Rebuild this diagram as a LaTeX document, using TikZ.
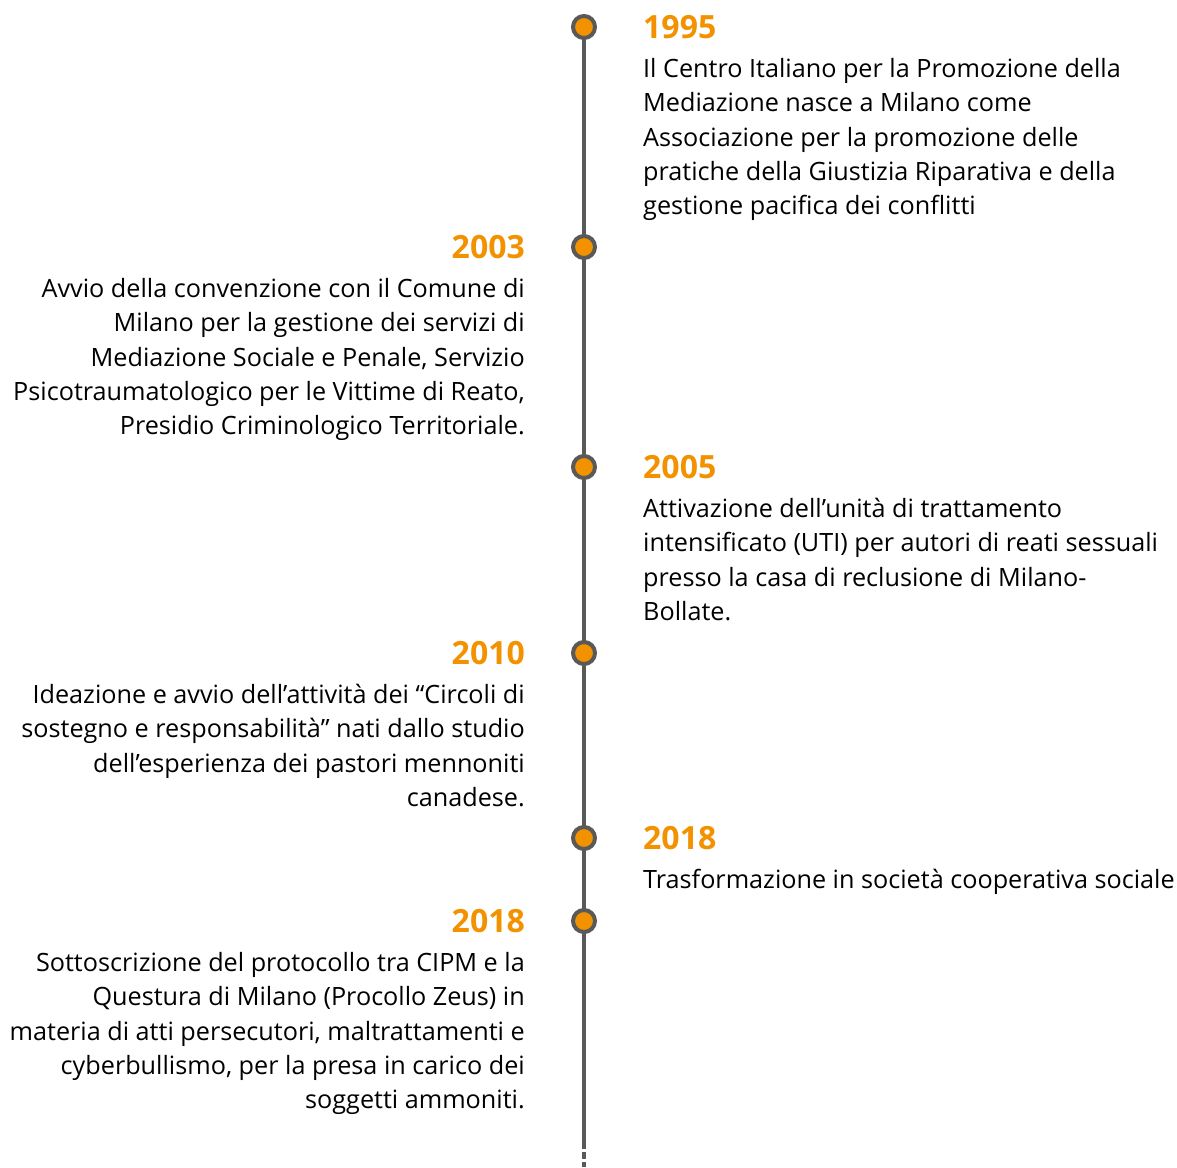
\documentclass[tikz,border=0pt]{standalone}
\usepackage{fontspec}
\setmainfont{Open Sans}
\usetikzlibrary{positioning}
\definecolor{tlorange}{HTML}{F39200}
\definecolor{tlgray}{HTML}{595959}

\begin{document}
\begin{tikzpicture}[
  x=1pt, y=1pt,
  dot/.style={circle, draw=tlgray, line width=4pt, fill=tlorange, minimum size=22pt, inner sep=0pt},
  spine/.style={draw=tlgray, line width=4pt},
  year/.style={text=tlorange, font=\fontsize{32}{32}\selectfont\bfseries, inner sep=0pt},
  descR/.style={align=left, inner sep=0pt, font=\fontsize{25.2}{34.4}\selectfont},
  descL/.style={align=right, inner sep=0pt, font=\fontsize{25.2}{34.4}\selectfont}
]
\useasboundingbox (0,0) rectangle (1177,-1167);

% === LINEA DEL TEMPO ===
\coordinate (top) at (584,-27);
\coordinate (tail) at (584,-1142);
\coordinate (bottom) at (584,-1167);
\draw[spine] (top) -- (tail);
\draw[spine, dash pattern=on 7pt off 3pt] (tail) -- (bottom);

% === PUNTI ===
\node[dot] (c1) at (584,-27) {};
\node[dot] (c2) at (584,-247) {};
\node[dot] (c3) at (584,-467) {};
\node[dot] (c4) at (584,-653) {};
\node[dot] (c5) at (584,-838) {};
\node[dot] (c6) at (584,-921) {};

% === ANNI ===
\node[year, anchor=west] (y1) at (643,-27) {1995};
\node[year, anchor=east] (y2) at (525,-247) {2003};
\node[year, anchor=west] (y3) at (643,-467) {2005};
\node[year, anchor=east] (y4) at (525,-653) {2010};
\node[year, anchor=west] (y5) at (643,-838) {2018};
\node[year, anchor=east] (y6) at (525,-921) {2018};

% === TESTI ===
\node[descR, below right=19pt and 0pt of y1.south west] (t1) {Il Centro Italiano per la Promozione della\\Mediazione nasce a Milano come\\Associazione per la promozione delle\\pratiche della Giustizia Riparativa e della\\gestione pacifica dei conflitti};
\node[descL, below left=19pt and 0pt of y2.south east] (t2) {Avvio della convenzione con il Comune di\\Milano per la gestione dei servizi di\\Mediazione Sociale e Penale, Servizio\\Psicotraumatologico per le Vittime di Reato,\\Presidio Criminologico Territoriale.};
\node[descR, below right=19pt and 0pt of y3.south west] (t3) {Attivazione dell’unità di trattamento\\intensificato (UTI) per autori di reati sessuali\\presso la casa di reclusione di Milano-\\Bollate.};
\node[descL, below left=19pt and 0pt of y4.south east] (t4) {Ideazione e avvio dell'attività dei “Circoli di\\sostegno e responsabilità” nati dallo studio\\dell’esperienza dei pastori mennoniti\\canadese.};
\node[descR, below right=19pt and 0pt of y5.south west] (t5) {Trasformazione in società cooperativa sociale};
\node[descL, below left=19pt and 0pt of y6.south east] (t6) {Sottoscrizione del protocollo tra CIPM e la\\Questura di Milano (Procollo Zeus) in\\materia di atti persecutori, maltrattamenti e\\cyberbullismo, per la presa in carico dei\\soggetti ammoniti.};

\end{tikzpicture}
\end{document}
